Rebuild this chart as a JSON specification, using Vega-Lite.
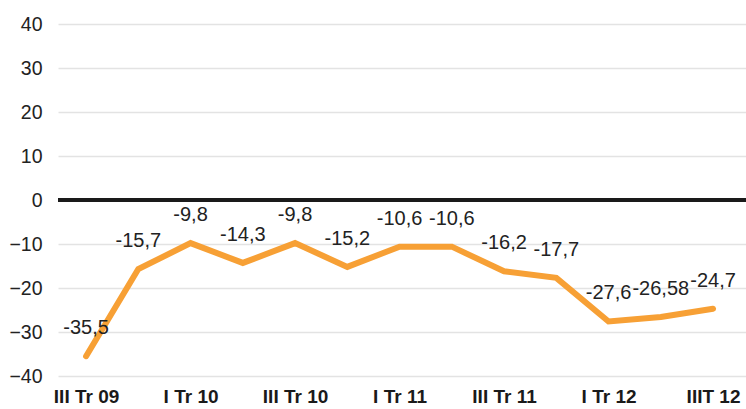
{
  "$schema": "https://vega.github.io/schema/vega-lite/v6.json",
  "autosize": "none",
  "width": 688,
  "height": 352,
  "padding": {"left": 58, "top": 24, "right": 0, "bottom": 33},
  "background": "white",
  "config": {"view": {"stroke": null}, "font": "Liberation Sans"},
  "data": {
    "values": [
      {"periodo": "III Tr 09", "valor": -35.5, "etiqueta": "-35,5"},
      {"periodo": "IV Tr 09", "valor": -15.7, "etiqueta": "-15,7"},
      {"periodo": "I Tr 10", "valor": -9.8, "etiqueta": "-9,8"},
      {"periodo": "II Tr 10", "valor": -14.3, "etiqueta": "-14,3"},
      {"periodo": "III Tr 10", "valor": -9.8, "etiqueta": "-9,8"},
      {"periodo": "IV Tr 10", "valor": -15.2, "etiqueta": "-15,2"},
      {"periodo": "I Tr 11", "valor": -10.6, "etiqueta": "-10,6"},
      {"periodo": "II Tr 11", "valor": -10.6, "etiqueta": "-10,6"},
      {"periodo": "III Tr 11", "valor": -16.2, "etiqueta": "-16,2"},
      {"periodo": "IV Tr 11", "valor": -17.7, "etiqueta": "-17,7"},
      {"periodo": "I Tr 12", "valor": -27.6, "etiqueta": "-27,6"},
      {"periodo": "II Tr 12", "valor": -26.58, "etiqueta": "-26,58"},
      {"periodo": "IIIT 12", "valor": -24.7, "etiqueta": "-24,7"}
    ]
  },
  "encoding": {
    "x": {
      "field": "periodo",
      "type": "ordinal",
      "sort": null,
      "scale": {"type": "point", "padding": 0.584, "align": 0.46},
      "axis": {
        "title": null,
        "values": ["III Tr 09", "I Tr 10", "III Tr 10", "I Tr 11", "III Tr 11", "I Tr 12", "IIIT 12"],
        "labelAngle": 0,
        "labelFontSize": 19,
        "labelFontWeight": "bold",
        "labelColor": "#1a1a1a",
        "labelPadding": 11,
        "labelOverlap": false,
        "ticks": false,
        "domain": false,
        "grid": false
      }
    },
    "y": {
      "field": "valor",
      "type": "quantitative",
      "scale": {"domain": [-40, 40], "nice": false, "zero": false},
      "axis": {
        "title": null,
        "values": [-40, -30, -20, -10, 0, 10, 20, 30, 40],
        "labelFontSize": 19.5,
        "labelColor": "#222222",
        "labelPadding": 16,
        "ticks": false,
        "domain": false,
        "grid": true,
        "gridColor": "#e3e3e3",
        "gridWidth": 1.5
      }
    }
  },
  "layer": [
    {
      "mark": {"type": "rule", "color": "#1a1a1a", "strokeWidth": 4},
      "encoding": {"y": {"datum": 0}, "x": {"value": 0}, "x2": {"value": 688}}
    },
    {
      "mark": {"type": "line", "color": "#F7A035", "strokeWidth": 6, "strokeCap": "round", "strokeJoin": "miter"}
    },
    {
      "mark": {"type": "text", "fontSize": 20, "color": "#222222", "dy": -28, "baseline": "middle", "clip": true},
      "encoding": {"text": {"field": "etiqueta"}}
    }
  ]
}
